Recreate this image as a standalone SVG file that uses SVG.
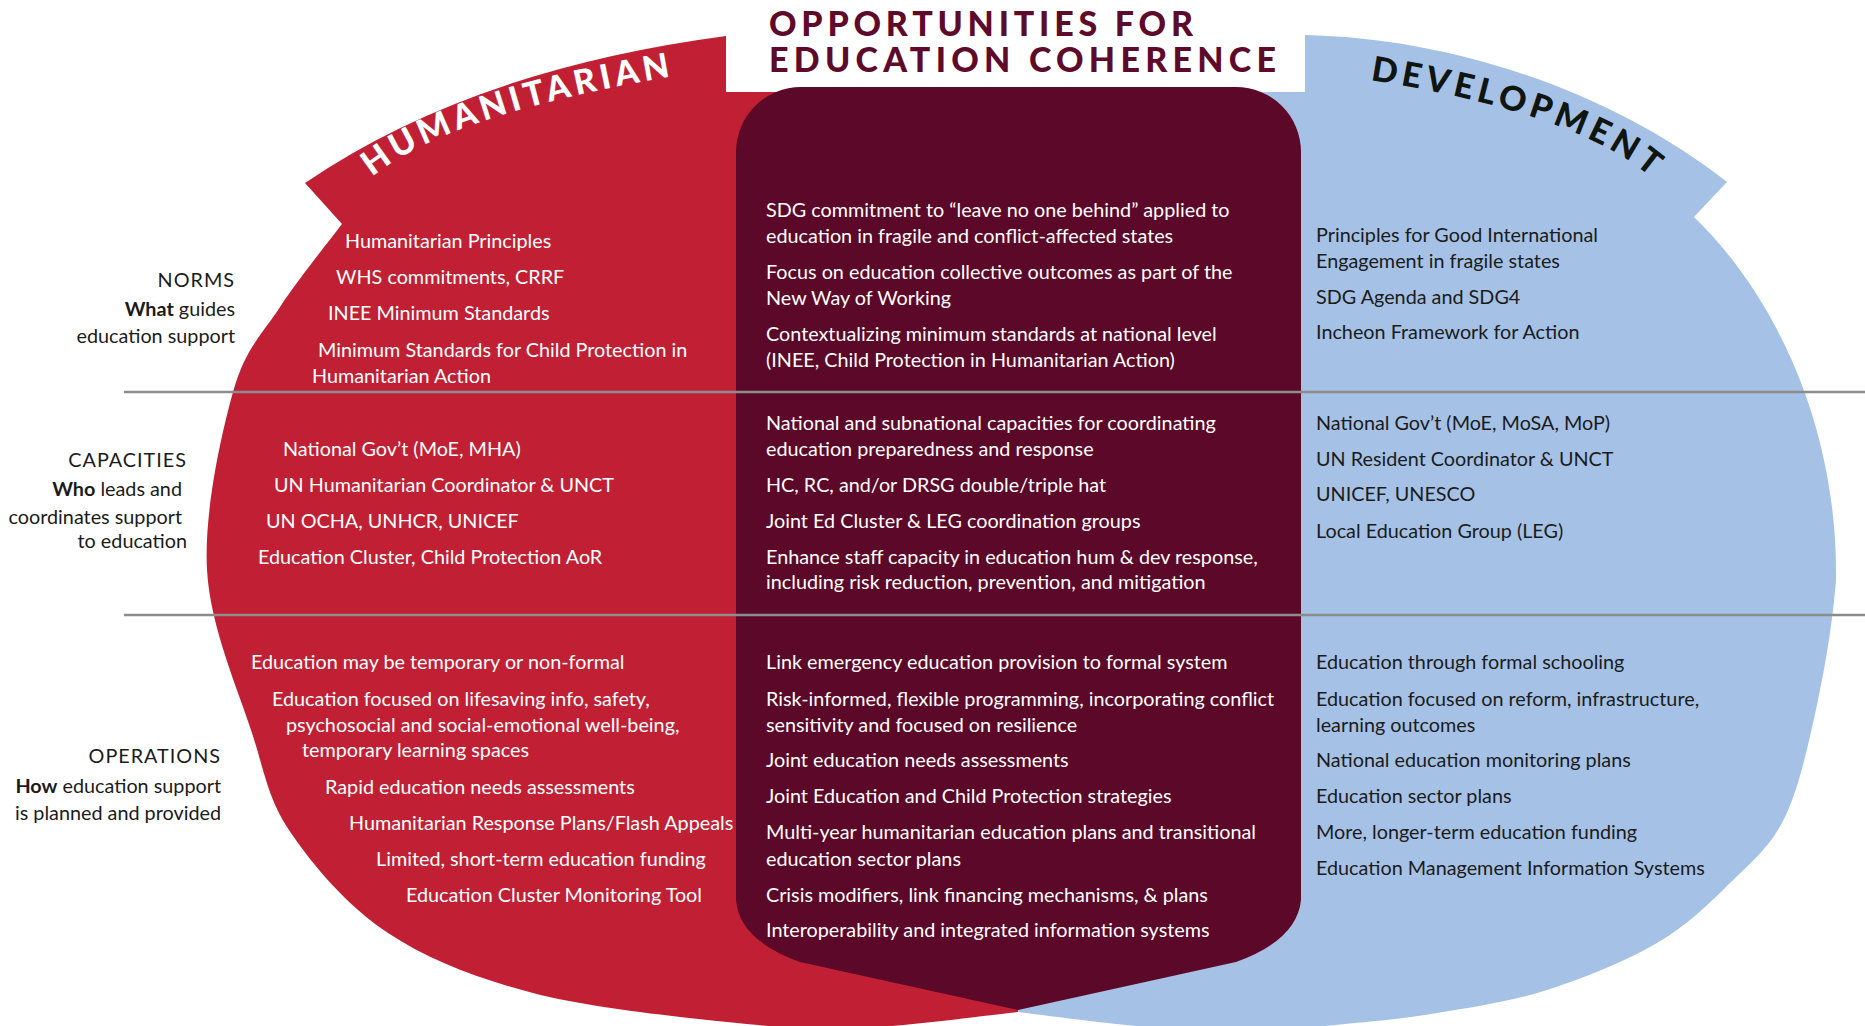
<svg xmlns="http://www.w3.org/2000/svg" width="1865" height="1026" viewBox="0 0 1865 1026">
<style>
.t{font-family:Lato,"Liberation Sans",sans-serif;font-size:19.8px}
.w{fill:#ffffff}
.d{fill:#1b1b1b}
.lab{font-family:Lato,"Liberation Sans",sans-serif;font-size:19.8px;fill:#1b1b1b;text-anchor:end}
.cap{letter-spacing:1px}
.ttl{font-family:Lato,"Liberation Sans",sans-serif;font-weight:900;font-size:34px;fill:#5e0b2b}
.rib{font-family:Lato,"Liberation Sans",sans-serif;font-weight:900;font-size:34px}
</style>
<defs>
<path id="humArc" d="M 372,177 Q 448,114 680,75"/>
<path id="devArc" d="M 1370,80 Q 1584,114 1656,182"/>
</defs>
<rect width="1865" height="1026" fill="#ffffff"/>

<g id="humanitarian">
<path fill="#c12034" d="M 305,183 Q 470,70 726,36 L 726,92 L 1018,92 L 1018,1012 C 991.7,1014.7 908.5,1026.3 860,1028 C 811.5,1029.7 781.5,1027.8 727,1022 C 672.5,1016.2 589.5,1007.8 533,993 C 476.5,978.2 428.3,959.7 388,933 C 347.7,906.3 313.7,866.3 291,833 C 268.3,799.7 266,776.8 252,733 C 238,689.2 210.2,626.8 207,570 C 203.8,513.2 220.8,435.8 233,392 C 245.2,348.2 261.8,335 280,307 C 298.2,279 331.7,237.8 342,224 Z"/>
<text class="rib w"><textPath href="#humArc" textLength="318" lengthAdjust="spacing">HUMANITARIAN</textPath></text>
</g>

<g id="development">
<path fill="#a5c2e6" d="M 1305,35 C 1450,38 1610,90 1727,182 L 1694,217 C 1770,290 1838,420 1836,580 C 1833.5,613.3 1826.5,660.5 1818,700 C 1809.5,739.5 1799.7,786.5 1785,817 C 1770.3,847.5 1751.3,862 1730,883 C 1708.7,904 1687.5,925.2 1657,943 C 1626.5,960.8 1583.7,978.3 1547,990 C 1510.3,1001.7 1470.7,1007.3 1437,1013 C 1403.3,1018.7 1377.8,1020.8 1345,1024 C 1312.2,1027.2 1274.8,1031.7 1240,1032 C 1205.2,1032.3 1173,1029.3 1136,1026 C 1099,1022.7 1037.7,1014.3 1018,1012 L 1018,92 L 1305,92 Z"/>
<text class="rib" fill="#101510"><textPath href="#devArc" textLength="300" lengthAdjust="spacing">DEVELOPMENT</textPath></text>
</g>

<g id="coherence">
<path fill="#5c0828" d="M 736,152 A 65 65 0 0 1 801,87 L 1236,87 A 65 65 0 0 1 1301,152 L 1301,900 Q 1297,940 1236,962 L 1018,1010 L 800,962 Q 739,940 736,900 Z"/>
<text class="ttl" x="769" y="36" textLength="424" lengthAdjust="spacing">OPPORTUNITIES FOR</text>
<text class="ttl" x="769" y="72" textLength="507" lengthAdjust="spacing">EDUCATION COHERENCE</text>
</g>

<g id="dividers" stroke="#8c8c8c" stroke-width="2.5">
<line x1="124" y1="392" x2="1865" y2="392"/>
<line x1="124" y1="615" x2="1865" y2="615"/>
</g>

<g id="row-labels">
<text class="lab cap" x="235" y="287">NORMS</text>
<text class="lab" x="235" y="316"><tspan font-weight="700">What</tspan> guides</text>
<text class="lab" x="235" y="343">education support</text>
<text class="lab cap" x="187" y="467">CAPACITIES</text>
<text class="lab" x="182" y="496"><tspan font-weight="700">Who</tspan> leads and</text>
<text class="lab" x="182" y="524">coordinates support</text>
<text class="lab" x="187" y="548">to education</text>
<text class="lab cap" x="221" y="763">OPERATIONS</text>
<text class="lab" x="221" y="793"><tspan font-weight="700">How</tspan> education support</text>
<text class="lab" x="221" y="820">is planned and provided</text>
</g>

<g id="humanitarian-text" class="t w">
<text x="345" y="248">Humanitarian Principles</text>
<text x="336" y="284">WHS commitments, CRRF</text>
<text x="328" y="320">INEE Minimum Standards</text>
<text x="318" y="357">Minimum Standards for Child Protection in</text>
<text x="312" y="383">Humanitarian Action</text>
<text x="283" y="456">National Gov’t (MoE, MHA)</text>
<text x="274" y="492">UN Humanitarian Coordinator &amp; UNCT</text>
<text x="266" y="528">UN OCHA, UNHCR, UNICEF</text>
<text x="258" y="564">Education Cluster, Child Protection AoR</text>
<text x="251" y="669">Education may be temporary or non-formal</text>
<text x="272" y="706">Education focused on lifesaving info, safety,</text>
<text x="286" y="732">psychosocial and social-emotional well-being,</text>
<text x="302" y="757">temporary learning spaces</text>
<text x="325" y="794">Rapid education needs assessments</text>
<text x="349" y="830">Humanitarian Response Plans/Flash Appeals</text>
<text x="376" y="866">Limited, short-term education funding</text>
<text x="406" y="902">Education Cluster Monitoring Tool</text>
</g>

<g id="coherence-text" class="t w">
<text x="766" y="217">SDG commitment to “leave no one behind” applied to</text>
<text x="766" y="243">education in fragile and conflict-affected states</text>
<text x="766" y="279">Focus on education collective outcomes as part of the</text>
<text x="766" y="305">New Way of Working</text>
<text x="766" y="341">Contextualizing minimum standards at national level</text>
<text x="766" y="367">(INEE, Child Protection in Humanitarian Action)</text>
<text x="766" y="430">National and subnational capacities for coordinating</text>
<text x="766" y="456">education preparedness and response</text>
<text x="766" y="492">HC, RC, and/or DRSG double/triple hat</text>
<text x="766" y="528">Joint Ed Cluster &amp; LEG coordination groups</text>
<text x="766" y="564">Enhance staff capacity in education hum &amp; dev response,</text>
<text x="766" y="589">including risk reduction, prevention, and mitigation</text>
<text x="766" y="669">Link emergency education provision to formal system</text>
<text x="766" y="706">Risk-informed, flexible programming, incorporating conflict</text>
<text x="766" y="732">sensitivity and focused on resilience</text>
<text x="766" y="767">Joint education needs assessments</text>
<text x="766" y="803">Joint Education and Child Protection strategies</text>
<text x="766" y="839">Multi-year humanitarian education plans and transitional</text>
<text x="766" y="866">education sector plans</text>
<text x="766" y="902">Crisis modifiers, link financing mechanisms, &amp; plans</text>
<text x="766" y="937">Interoperability and integrated information systems</text>
</g>

<g id="development-text" class="t d">
<text x="1316" y="242">Principles for Good International</text>
<text x="1316" y="268">Engagement in fragile states</text>
<text x="1316" y="304">SDG Agenda and SDG4</text>
<text x="1316" y="339">Incheon Framework for Action</text>
<text x="1316" y="430">National Gov’t (MoE, MoSA, MoP)</text>
<text x="1316" y="466">UN Resident Coordinator &amp; UNCT</text>
<text x="1316" y="501">UNICEF, UNESCO</text>
<text x="1316" y="538">Local Education Group (LEG)</text>
<text x="1316" y="669">Education through formal schooling</text>
<text x="1316" y="706">Education focused on reform, infrastructure,</text>
<text x="1316" y="732">learning outcomes</text>
<text x="1316" y="767">National education monitoring plans</text>
<text x="1316" y="803">Education sector plans</text>
<text x="1316" y="839">More, longer-term education funding</text>
<text x="1316" y="875">Education Management Information Systems</text>
</g>
</svg>
